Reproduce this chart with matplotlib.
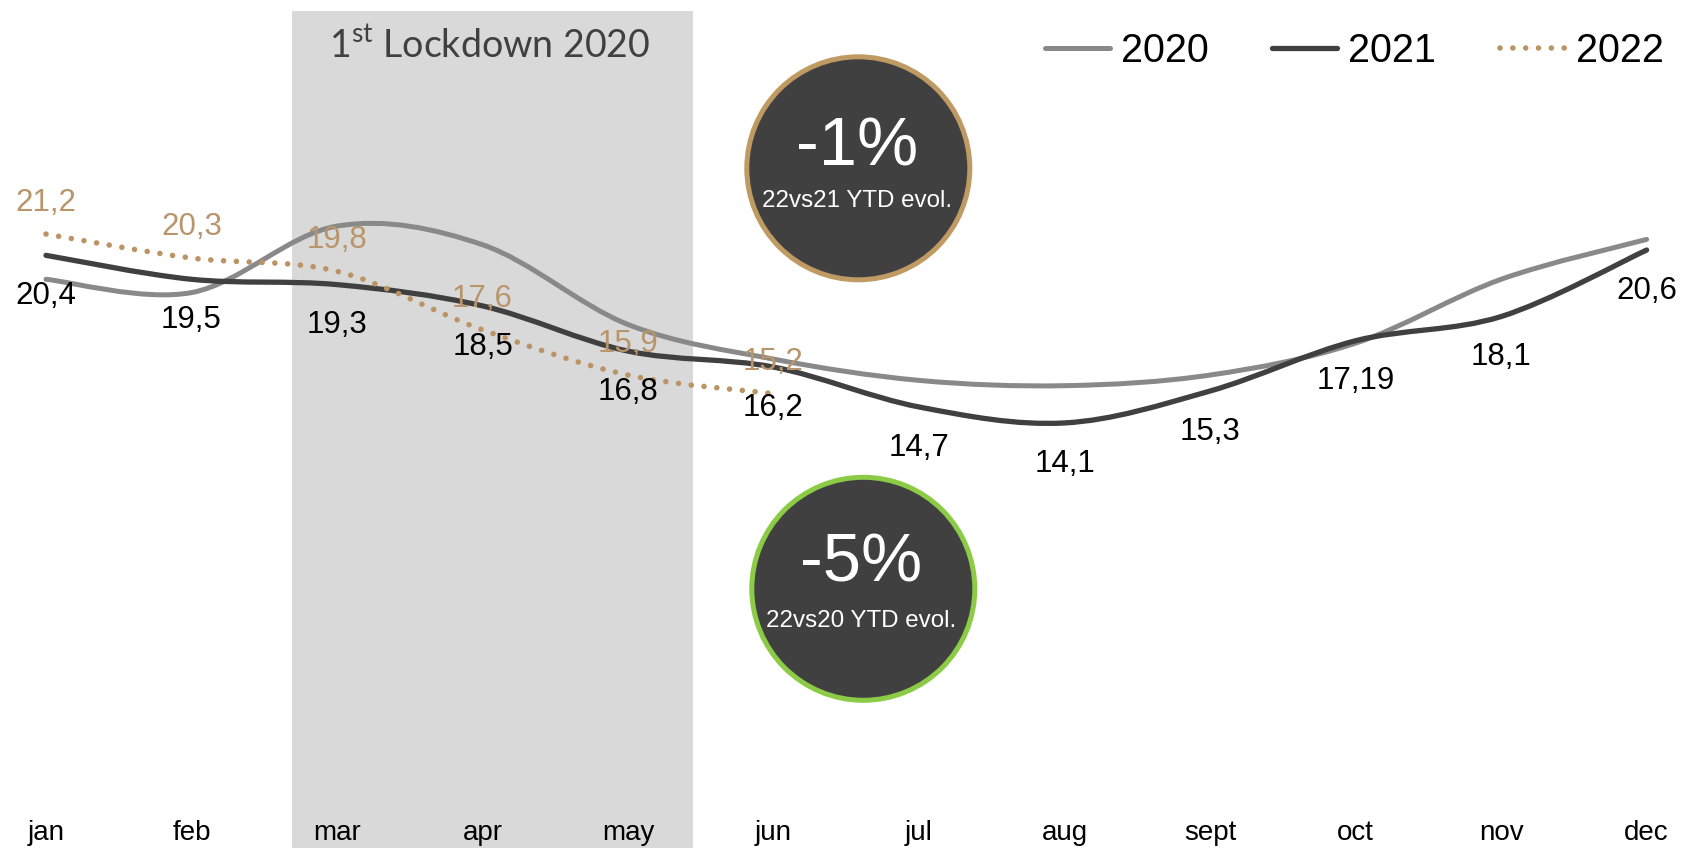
import matplotlib.pyplot as plt
import numpy as np
from matplotlib.path import Path
from matplotlib.patches import PathPatch, Circle
from matplotlib.lines import Line2D

plt.rcParams['font.family'] = ['Liberation Sans', 'DejaVu Sans']
plt.rcParams['mathtext.fontset'] = 'custom'
plt.rcParams['mathtext.rm'] = 'Lato'

months = ['jan', 'feb', 'mar', 'apr', 'may', 'jun',
          'jul', 'aug', 'sept', 'oct', 'nov', 'dec']
y2020 = [19.5, 19.0, 21.5, 20.8, 17.8, 16.5, 15.7, 15.5, 15.9, 17.1, 19.5, 21.0]
y2021 = [20.4, 19.5, 19.3, 18.5, 16.8, 16.2, 14.7, 14.1, 15.3, 17.19, 18.1, 20.6]
y2022 = [21.2, 20.3, 19.8, 17.6, 15.9, 15.2]

evol_22vs21 = '-1%'
evol_22vs20 = '-5%'

c2020 = '#898989'
c2021 = '#404040'
c2022 = '#BA9464'
dots = (0, (0.01, 2.3))
W, H = 1683, 848


def smooth_path(ys):
    # excel-style smoothed line: cubic bezier through every point
    pts = np.column_stack([np.arange(len(ys)), ys]).astype(float)
    n = len(pts)
    verts = [pts[0]]
    codes = [Path.MOVETO]
    for i in range(n - 1):
        p0 = pts[max(i - 1, 0)]
        p1 = pts[i]
        p2 = pts[i + 1]
        p3 = pts[min(i + 2, n - 1)]
        verts += [p1 + (p2 - p0) / 6, p2 - (p3 - p1) / 6, p2]
        codes += [Path.CURVE4] * 3
    return Path(verts, codes)


def fmt(v):
    return str(v).replace('.', ',')


fig = plt.figure(figsize=(W / 100, H / 100), dpi=100)
ax = fig.add_axes([0, 0, 1, 1])
ax.set_xlim(-0.316, 11.25)
ax.set_ylim(-1.88, 30.0)
ax.axis('off')

# lockdown period
ax.axvspan(1.694, 4.447, ymin=0, ymax=1 - 11 / H, color='#D9D9D9', lw=0, zorder=0)
ax.text(490 / W, 1 - 58 / H, r'1$^{\mathrm{st}}$ Lockdown 2020', transform=ax.transAxes,
        ha='center', va='baseline', fontsize=27, color='#404040', family='Lato')

ax.add_patch(PathPatch(smooth_path(y2020), fill=False, ec=c2020, lw=3.6,
                       capstyle='round', zorder=2))
ax.add_patch(PathPatch(smooth_path(y2021), fill=False, ec=c2021, lw=3.8,
                       capstyle='round', zorder=3))
ax.add_patch(PathPatch(smooth_path(y2022), fill=False, ec=c2022, lw=4.0,
                       linestyle=dots, capstyle='round', zorder=4))

for i, v in enumerate(y2021):
    ax.annotate(fmt(v), (i, v), xytext=(0, -35), textcoords='offset points',
                ha='center', va='baseline', fontsize=22.5, color='black', zorder=5)
for i, v in enumerate(y2022):
    ax.annotate(fmt(v), (i, v), xytext=(0, 16.7), textcoords='offset points',
                ha='center', va='baseline', fontsize=22.5, color='#B8956A', zorder=5)

for i, m in enumerate(months):
    ax.text(i, 1 - 840 / H, m, transform=ax.get_xaxis_transform(), ha='center',
            va='baseline', fontsize=20, color='black')

handles = [Line2D([], [], color=c2020, lw=3.6, solid_capstyle='round'),
           Line2D([], [], color=c2021, lw=3.8, solid_capstyle='round'),
           Line2D([], [], color=c2022, lw=4.0, linestyle=dots, dash_capstyle='round')]
ax.legend(handles, ['2020', '2021', '2022'], ncol=3, frameon=False, fontsize=28.5,
          loc='center left', bbox_to_anchor=(1044.6 / W, 1 - 50.5 / H),
          borderpad=0, borderaxespad=0, handlelength=1.64, handletextpad=0.28,
          columnspacing=1.62)

# YTD evolution badges
badges = [((858.3, 168.3), '#BF9A62', evol_22vs21, '22vs21 YTD evol.', 166, 207.3, 856.7),
          ((863.3, 588.8), '#8CCB46', evol_22vs20, '22vs20 YTD evol.', 581.7, 626.7, 861.5)]
for (cx, cy), edge, big, small, yb, ys, tx in badges:
    fig.add_artist(Circle((cx / 100, (H - cy) / 100), 1.115, transform=fig.dpi_scale_trans,
                          fc='#404040', ec=edge, lw=3.6, zorder=6))
    fig.text(tx / W, 1 - yb / H, big, ha='center', va='baseline', fontsize=49.5,
             color='white', zorder=7)
    fig.text(tx / W, 1 - ys / H, small, ha='center', va='baseline', fontsize=17.4,
             color='white', zorder=7)

fig.savefig('out.png', dpi=100)
